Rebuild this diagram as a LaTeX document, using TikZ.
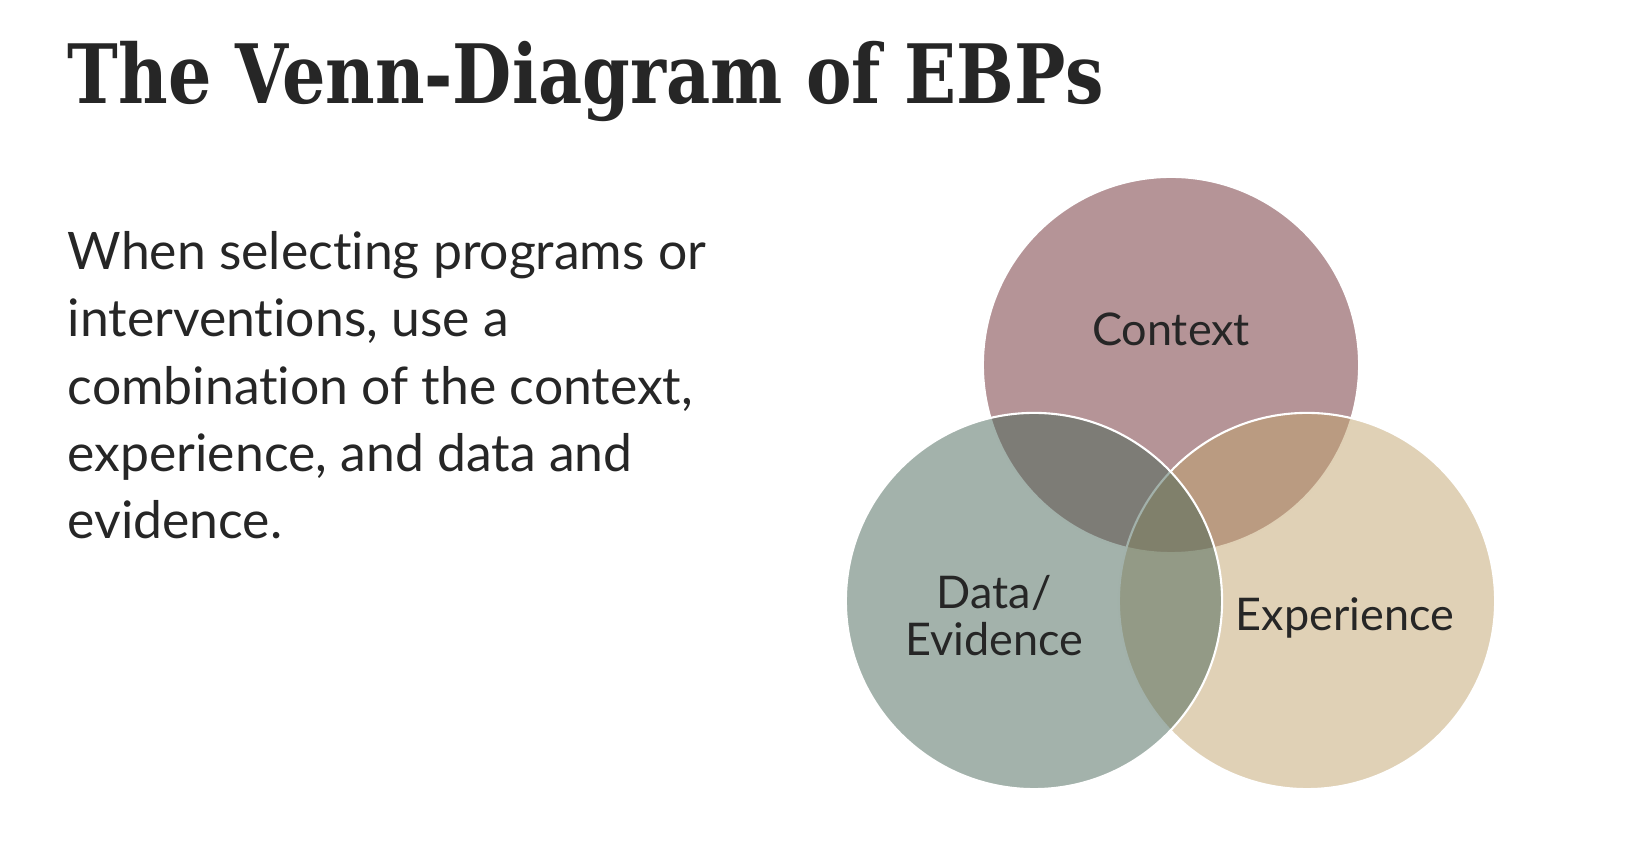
\documentclass[tikz,border=0pt]{standalone}
\usepackage{fontspec}
\setmainfont{Lato}[Ligatures={NoCommon}]
\newfontfamily\titlefont{DejaVu Serif}
\usepackage{xcolor}
\usetikzlibrary{positioning}
\definecolor{ink}{HTML}{262626}
\definecolor{ctxfill}{RGB}{107,41,47}
\definecolor{datfill}{RGB}{71,101,87}
\definecolor{expfill}{RGB}{193,163,109}

\begin{document}
\begin{tikzpicture}[
    x=0.01cm, y=-0.01cm,
    set/.style={circle, inner sep=0pt, minimum size=3.76cm, draw=white, line width=0.6pt, fill opacity=0.5, draw opacity=1},
    setlabel/.style={text=ink, align=center, font=\fontsize{12.8pt}{13.4pt}\selectfont, inner sep=0pt},
    heading/.style={text=ink, anchor=base west, inner sep=0pt, font=\titlefont\bfseries\fontsize{23.3pt}{28pt}\selectfont},
    bodytext/.style={text=ink, anchor=north west, align=left, inner sep=0pt, font=\fontsize{14.7pt}{19.1pt}\selectfont}
]
\useasboundingbox (0,0) rectangle (1626,846);
\node[heading] (title) at (67,104) {\scalebox{0.833}[1]{The Venn-Diagram of EBPs}};
\node[bodytext] (intro) at (67,231) {When selecting programs or\\interventions, use a\\combination of the context,\\experience, and data and\\evidence.};

\node[set, fill=ctxfill] (context) at (1171,365) {};
\node[set, fill=expfill] (experience) at (1307,601) {};
\node[set, fill=datfill] (data) at (1034,601) {};

\node[setlabel] (ctxlabel) at (1171,329) {Context};
\node[setlabel] (explabel) at (1345,618) {Experience};
\node[setlabel] (datlabel) at (994,616) {Data/\\Evidence};
\end{tikzpicture}
\end{document}
